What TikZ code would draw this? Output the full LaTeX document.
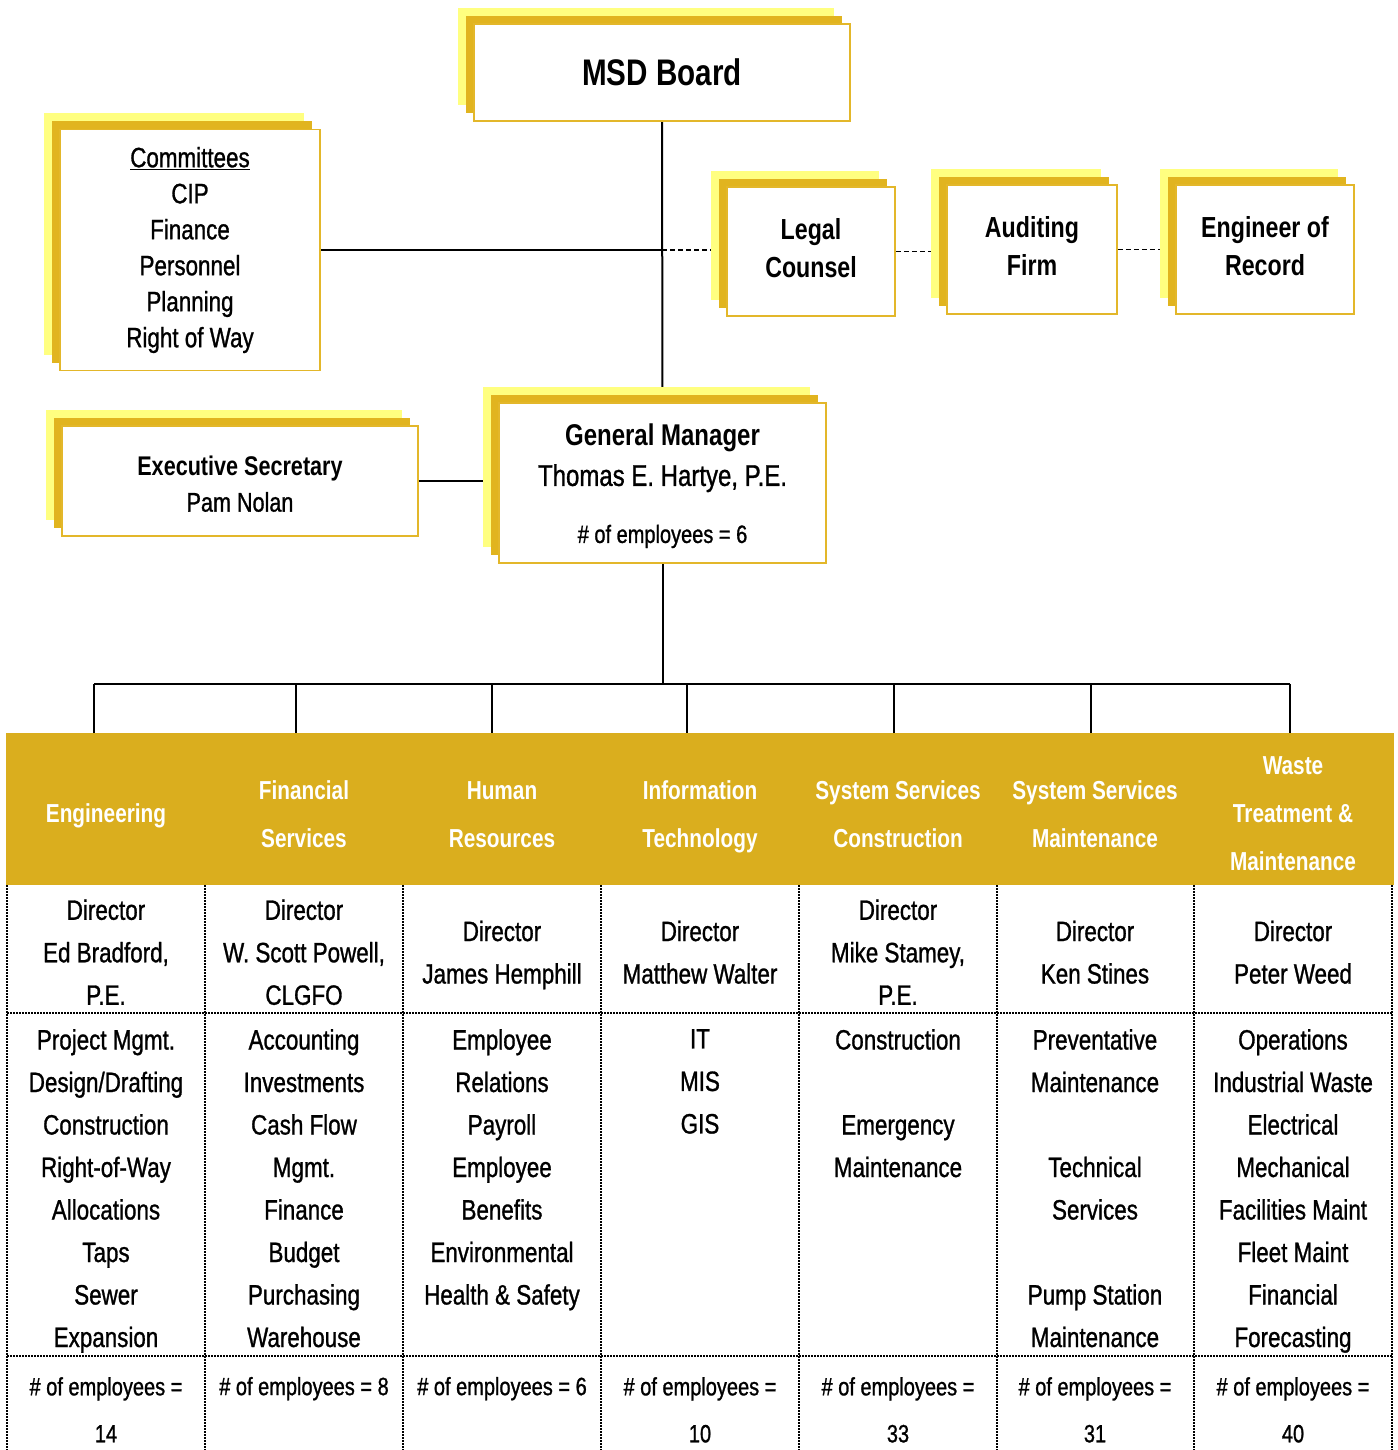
\documentclass[tikz,border=0pt]{standalone}
\usepackage{fontspec}
\setmainfont{Liberation Sans}[FakeStretch=0.8, UprightFeatures={FakeBold=1}]
\usetikzlibrary{shadows,backgrounds}

\definecolor{paleyellow}{HTML}{FFFF80}
\definecolor{shadowgold}{HTML}{E1B41F}
\definecolor{boxgold}{HTML}{E3B72A}
\definecolor{headgold}{HTML}{DAAE1E}

\newcommand\boardfont{\bfseries\fontsize{37}{42}\selectfont}
\newcommand\boxfont{\bfseries\fontsize{29}{38}\selectfont}
\newcommand\cmtefont{\fontsize{28}{36}\selectfont}
\newcommand\execfont{\fontsize{27}{36}\selectfont}
\newcommand\gmfont{\fontsize{30}{40}\selectfont}
\newcommand\headfont{\bfseries\fontsize{26}{48}\selectfont}
\newcommand\cellfont{\fontsize{28}{42.5}\selectfont}
\newcommand\empfont{\fontsize{25}{47}\selectfont}

\tikzset{
  orgbox/.style={draw=boxgold, line width=1.5pt, fill=white, align=center, inner sep=0pt,
    general shadow={fill=paleyellow, draw=none, shadow xshift=-16pt, shadow yshift=16pt},
    general shadow={fill=shadowgold, draw=none, shadow xshift=-8pt, shadow yshift=8pt}},
  link/.style={line width=2pt},
  dashlink/.style={line width=1.6pt, dash pattern=on 5pt off 3pt},
  grid/.style={line width=1.2pt, dash pattern=on 1.5pt off 1.5pt},
  cell/.style={align=center, inner sep=0pt, font=\cellfont,
    execute at begin node=\strut, execute at end node=\strut},
  head/.style={cell, font=\headfont, text=white},
  emp/.style={cell, font=\empfont, anchor=north},
  duty/.style={cell, anchor=north}
}

\begin{document}
\begin{tikzpicture}[x=1pt, y=-1pt]

  \useasboundingbox (0,0) rectangle (1397,1450);

  % board and advisers
  \node[orgbox, minimum width=376pt, minimum height=97pt, font=\boardfont] (board) at (662,72.5) {MSD Board};
  \node[orgbox, minimum width=260pt, minimum height=241pt, font=\cmtefont] (cmte) at (190,250)
    {\underline{Committees}\\CIP\\Finance\\Personnel\\Planning\\Right of Way};
  \node[orgbox, minimum width=168pt, minimum height=129pt, font=\boxfont] (legal) at (811,251.5)
    {Legal\\Counsel\rule[-8pt]{0pt}{8pt}};
  \node[orgbox, minimum width=170pt, minimum height=129pt, font=\boxfont] (audit) at (1032,249.5)
    {Auditing\\Firm\rule[-8pt]{0pt}{8pt}};
  \node[orgbox, minimum width=178pt, minimum height=129pt, font=\boxfont] (eor) at (1265,249.5)
    {Engineer of\\Record\rule[-8pt]{0pt}{8pt}};

  % general manager
  \node[orgbox, minimum width=327pt, minimum height=160pt, font=\gmfont] (gm) at (662.5,483)
    {\rule{0pt}{28pt}\textbf{General Manager}\\Thomas E. Hartye, P.E.\\[17pt]{\fontsize{25}{30}\selectfont \# of employees = 6}};
  \node[orgbox, minimum width=356pt, minimum height=110pt, font=\execfont] (exec) at (240,481)
    {\rule{0pt}{25.5pt}\textbf{Executive Secretary}\\Pam Nolan};

  % departments table
  \fill[headgold] (6,733) rectangle (1394,885);
  \draw[grid] (7,885) -- (7,1450);
  \draw[grid] (205,885) -- (205,1450);
  \draw[grid] (403,885) -- (403,1450);
  \draw[grid] (601,885) -- (601,1450);
  \draw[grid] (799,885) -- (799,1450);
  \draw[grid] (997,885) -- (997,1450);
  \draw[grid] (1194,885) -- (1194,1450);
  \draw[grid] (1392,885) -- (1392,1450);
  \draw[grid] (7,1013) -- (1392,1013);
  \draw[grid] (7,1356) -- (1392,1356);

  \coordinate (d1) at (94,733);
  \coordinate (d2) at (296,733);
  \coordinate (d3) at (492,733);
  \coordinate (d4) at (687,733);
  \coordinate (d5) at (894,733);
  \coordinate (d6) at (1091,733);
  \coordinate (d7) at (1290,733);

  \node[head] (hd1) at (106,813) {Engineering};
  \node[head] (hd2) at (304,821) {Financial\\Services};
  \node[head] (hd3) at (502,821.5) {Human\\Resources};
  \node[head] (hd4) at (700,821) {Information\\Technology};
  \node[head] (hd5) at (898,821) {System Services\\Construction};
  \node[head] (hd6) at (1095,821) {System Services\\Maintenance};
  \node[head] (hd7) at (1293,821) {Waste\\Treatment \&\\Maintenance};

  \node[cell] (dir1) at (106,958.5) {Director\\Ed Bradford,\\P.E.};
  \node[cell] (dir2) at (304,958.5) {Director\\W. Scott Powell,\\CLGFO};
  \node[cell] (dir3) at (502,958.5) {Director\\James Hemphill};
  \node[cell] (dir4) at (700,958.5) {Director\\Matthew Walter};
  \node[cell] (dir5) at (898,958.5) {Director\\Mike Stamey,\\P.E.};
  \node[cell] (dir6) at (1095,958.5) {Director\\Ken Stines};
  \node[cell] (dir7) at (1293,958.5) {Director\\Peter Weed};

  \node[duty] (job1) at (106,1029) {Project Mgmt.\\Design/Drafting\\Construction\\Right-of-Way\\Allocations\\Taps\\Sewer\\Expansion};
  \node[duty] (job2) at (304,1029) {Accounting\\Investments\\Cash Flow\\Mgmt.\\Finance\\Budget\\Purchasing\\Warehouse};
  \node[duty] (job3) at (502,1029) {Employee\\Relations\\Payroll\\Employee\\Benefits\\Environmental\\Health \& Safety};
  \node[duty] (job4) at (700,1029) {IT\\MIS\\GIS};
  \node[duty] (job5) at (898,1029) {Construction\\~\\Emergency\\Maintenance};
  \node[duty] (job6) at (1095,1029) {Preventative\\Maintenance\\~\\Technical\\Services\\~\\Pump Station\\Maintenance};
  \node[duty] (job7) at (1293,1029) {Operations\\Industrial Waste\\Electrical\\Mechanical\\Facilities Maint\\Fleet Maint\\Financial\\Forecasting};

  \node[emp] (emp1) at (106,1377) {\# of employees =\\14};
  \node[emp] (emp2) at (304,1362) {\# of employees = 8};
  \node[emp] (emp3) at (502,1362) {\# of employees = 6};
  \node[emp] (emp4) at (700,1377) {\# of employees =\\10};
  \node[emp] (emp5) at (898,1377) {\# of employees =\\33};
  \node[emp] (emp6) at (1095,1377) {\# of employees =\\31};
  \node[emp] (emp7) at (1293,1377) {\# of employees =\\40};

  % connectors behind the boxes
  \begin{scope}[on background layer]
    \draw[link] (board.south) -- (gm.north);
    \draw[link] (cmte.east) -- (cmte.east -| board.south) coordinate (cj);
    \draw[dashlink] (cj) -- (cj -| legal.west);
    \draw[dashlink] (legal.east) -- (legal.east -| audit.west);
    \draw[dashlink] (audit.east) -- (audit.east -| eor.west);
    \draw[link] (exec.east) -- (exec.east -| gm.west);
    \draw[link] (gm.south) -- ++(0,120) coordinate (bus);
    \draw[link] (d1 |- bus) -- (d7 |- bus);
    \draw[link] (d1 |- bus) -- (d1);
    \draw[link] (d2 |- bus) -- (d2);
    \draw[link] (d3 |- bus) -- (d3);
    \draw[link] (d4 |- bus) -- (d4);
    \draw[link] (d5 |- bus) -- (d5);
    \draw[link] (d6 |- bus) -- (d6);
    \draw[link] (d7 |- bus) -- (d7);
  \end{scope}

\end{tikzpicture}
\end{document}
